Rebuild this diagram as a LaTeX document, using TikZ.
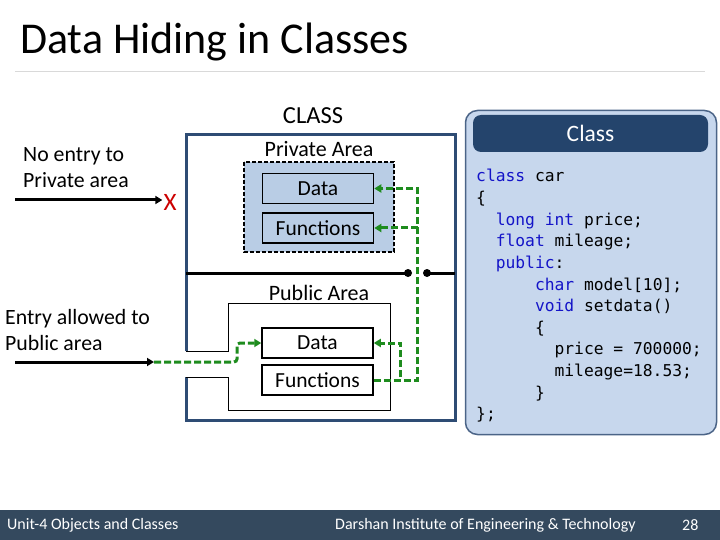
\documentclass[tikz,border=0pt]{standalone}
\usepackage{fontspec}
\setmainfont{Carlito}
\setmonofont{DejaVu Sans Mono}
\usepackage{tikz}
\usetikzlibrary{positioning, arrows.meta, calc}

\definecolor{classblue}{RGB}{46,76,116}
\definecolor{privfill}{RGB}{185,205,229}
\definecolor{codefill}{RGB}{199,215,237}
\definecolor{codeedge}{RGB}{75,100,135}
\definecolor{headblue}{RGB}{36,68,108}
\definecolor{footband}{RGB}{52,73,94}
\definecolor{okgreen}{RGB}{30,140,30}
\definecolor{kwblue}{RGB}{20,20,200}
\newcommand{\kw}[1]{\textcolor{kwblue}{#1}}

\begin{document}
\begin{tikzpicture}[
  x=1pt, y=-1pt,
  member/.style={
    rectangle,
    draw=black, line width=1.5pt,
    minimum width=111pt, minimum height=30pt,
    inner sep=0pt,
    font=\fontsize{21.5}{24}\selectfont
  },
  privmember/.style={member, fill=privfill},
  pubmember/.style={member, fill=white},
  arealabel/.style={font=\fontsize{22}{24}\selectfont, inner sep=1pt},
  sidelabel/.style={font=\fontsize{21.8}{26}\selectfont, align=left, inner sep=0pt},
  access/.style={
    draw=okgreen, line width=3pt, dash pattern=on 7pt off 3pt,
    -{Triangle[length=7pt,width=8pt]}
  },
  entry/.style={line width=3pt, -{Triangle[length=7pt,width=8pt]}},
  codeline/.style={anchor=base west, inner sep=0pt,
    font=\ttfamily\fontsize{16.3}{20}\selectfont},
  foottext/.style={text=white, anchor=west, inner sep=0pt,
    font=\fontsize{16}{18}\selectfont}
]
\useasboundingbox (0,0) rectangle (720,540);

% title
\node[anchor=base west, inner sep=0pt, font=\fontsize{44}{48}\selectfont]
  (title) at (20,54) {Data Hiding in Classes};
\draw[black!15, line width=1pt] (15,72) -- (705,72);

% class outline
\draw[classblue, line width=3pt]
  (186,351) -- (186,135) -- (455,135) -- (455,420) -- (186,420) -- (186,377);
\draw[line width=1pt]
  (186,351) -- (228,351) -- (228,303) -- (390,303) -- (390,410)
  -- (228,410) -- (228,377) -- (186,377);

% private area
\draw[dash pattern=on 4pt off 2pt, line width=1.5pt, fill=privfill]
  (244,162) rectangle (394,252);

\node[arealabel, font=\fontsize{24.5}{26}\selectfont] (classlbl) at (313,116) {CLASS};
\node[arealabel] (privlbl) at (319,149) {Private Area};
\node[arealabel] (publbl) at (319,293) {Public Area};

\node[privmember] (pdata) at (318,188.5) {Data};
\node[privmember] (pfunc) at (318,228) {Functions};
\node[pubmember] (udata) at (317.5,343) {Data};
\node[pubmember] (ufunc) at (317.5,380) {Functions};

% divider between private and public
\coordinate (divl) at (186,273);
\coordinate (divm) at (408,273);
\coordinate (divn) at (427,273);
\coordinate (divr) at (455,273);
\draw[line width=3pt] (divl) -- (divm);
\draw[line width=3pt] (divn) -- (divr);
\fill (divm) circle (4);
\fill (divn) circle (4);

% member functions reach everything
\coordinate (bus) at ($(ufunc.east)+(44,0)$);
\draw[access] (ufunc.east) -- (bus) |- (pdata.east);
\draw[access] (bus |- pfunc.east) -- (pfunc.east);
\draw[access] (ufunc.east) -- ++(27,0) |- (udata.east);

% outside access
\node[sidelabel, anchor=north west] (noentry) at (23,147) {No entry to\\Private area};
\node[text=red!80!black, inner sep=1pt, font=\fontsize{25}{27}\selectfont]
  (cross) at (170,202) {X};
\coordinate (ne0) at (15,200);
\draw[entry] (ne0) -- (ne0 -| cross.west);

\node[sidelabel, anchor=north west] (yesentry) at (5,309) {Entry allowed to\\Public area};
\coordinate (ea0) at (15,362);
\coordinate (ea1) at (154,362);
\draw[entry] (ea0) -- (ea1);
\draw[access, rounded corners=3pt] (ea1) -- (237,362) |- (udata.west);

% code panel
\node[draw=codeedge, fill=codefill, line width=1.5pt, rounded corners=12pt,
  minimum width=251pt, minimum height=324pt] (panel) at (591,272.5) {};
\node[fill=headblue, rounded corners=8pt, text=white,
  minimum width=235pt, minimum height=37pt,
  font=\fontsize{23.5}{26}\selectfont] (head) at (590.5,133.5) {Class};

\foreach \ind/\txt [count=\i from 0] in {
  0/{\kw{class} car},
  0/{\{},
  2/{\kw{long} \kw{int} price;},
  2/{\kw{float} mileage;},
  2/{\kw{public}:},
  6/{\kw{char} model[10];},
  6/{\kw{void} setdata()},
  6/{\{},
  8/{price = 700000;},
  8/{mileage=18.53;},
  6/{\}},
  0/{\};}}
  \node[codeline] (code\i) at ({476+\ind*9.8},{182+\i*21.6}) {\txt};

% footer
\fill[footband] (0,510) rectangle (720,540);
\node[foottext] (unit) at (7,525) {Unit-4 Objects and Classes};
\node[foottext] (inst) at (335,525) {Darshan Institute of Engineering \& Technology};
\node[foottext] (page) at (682,525) {28};
\end{tikzpicture}
\end{document}
